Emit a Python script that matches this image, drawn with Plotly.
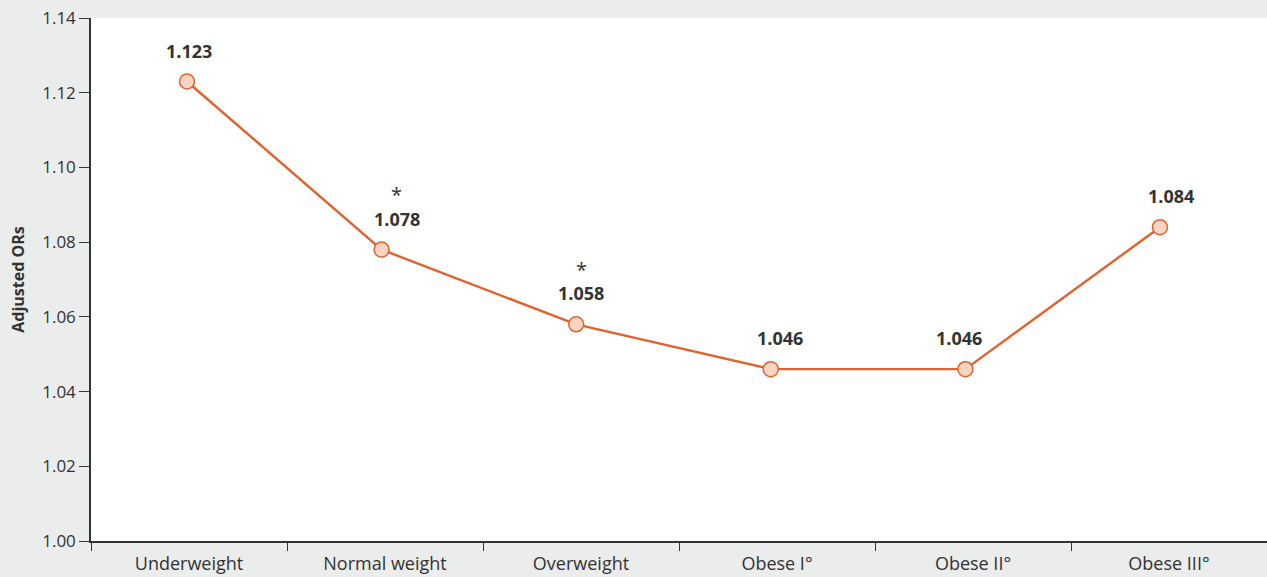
import plotly.graph_objects as go

categories = ["Underweight", "Normal weight", "Overweight", "Obese I°", "Obese II°", "Obese III°"]
adjusted_ors = [1.123, 1.078, 1.058, 1.046, 1.046, 1.084]
value_labels = ["1.123", "1.078", "1.058", "1.046", "1.046", "1.084"]
significant = [False, True, True, False, False, False]
y_ticks = [1.00, 1.02, 1.04, 1.06, 1.08, 1.10, 1.12, 1.14]

# style: horizontal nudges of the value labels (px)
label_xshift = [2, 15, 5, 9, -6, 11]

BG = "#ebecec"
LINE = "#e0622f"
TXT = "#333333"
FONT = "Open Sans"

fig = go.Figure()

# invisible trace to establish the category axis
fig.add_trace(go.Scatter(x=categories, y=[None] * len(categories), xaxis="x", yaxis="y",
                         showlegend=False, hoverinfo="skip"))

idx = list(range(len(categories)))
fig.add_trace(go.Scatter(
    x=idx, y=adjusted_ors, xaxis="x2", yaxis="y",
    mode="lines+markers",
    line=dict(color=LINE, width=2.4),
    marker=dict(size=15, color="#f7d5c3", line=dict(color=LINE, width=1.5)),
    showlegend=False, cliponaxis=False,
))

annotations = []
for i, (v, lab, sig, dx) in enumerate(zip(adjusted_ors, value_labels, significant, label_xshift)):
    annotations.append(dict(x=i, y=v, xref="x2", yref="y", text="<b>" + lab + "</b>",
                            showarrow=False, yshift=31, xshift=dx,
                            font=dict(family=FONT, size=18, color=TXT)))
    if sig:
        annotations.append(dict(x=i, y=v, xref="x2", yref="y", text="*",
                                showarrow=False, yshift=55, xshift=dx,
                                font=dict(family=FONT, size=20, color=TXT)))

fig.update_layout(
    width=1267, height=577,
    margin=dict(l=91, r=0, t=18, b=36),
    paper_bgcolor=BG, plot_bgcolor="white",
    font=dict(family=FONT, size=16, color=TXT),
    xaxis=dict(type="category", range=[-0.5, 5.5], tickson="boundaries",
               ticks="outside", ticklen=8, tickcolor=TXT, tickwidth=1,
               ticklabelstandoff=6,
               showline=True, linecolor=TXT, linewidth=1.5, showgrid=False,
               zeroline=False, tickfont=dict(family=FONT, size=18, color=TXT)),
    xaxis2=dict(overlaying="x", range=[-0.4933, 5.550], visible=False,
                showgrid=False, zeroline=False),
    yaxis=dict(range=[1.00, 1.14], tickvals=y_ticks,
               ticktext=[f"{t:.2f}" for t in y_ticks],
               ticks="outside", ticklen=10, tickcolor=TXT, tickwidth=1,
               showline=True, linecolor=TXT, linewidth=1.5, showgrid=False,
               zeroline=False, tickfont=dict(family=FONT, size=17, color=TXT),
               title=dict(text="<b>Adjusted ORs</b>", standoff=14,
                          font=dict(family=FONT, size=16, color=TXT))),
    annotations=annotations,
)

fig.write_html("out.html")
